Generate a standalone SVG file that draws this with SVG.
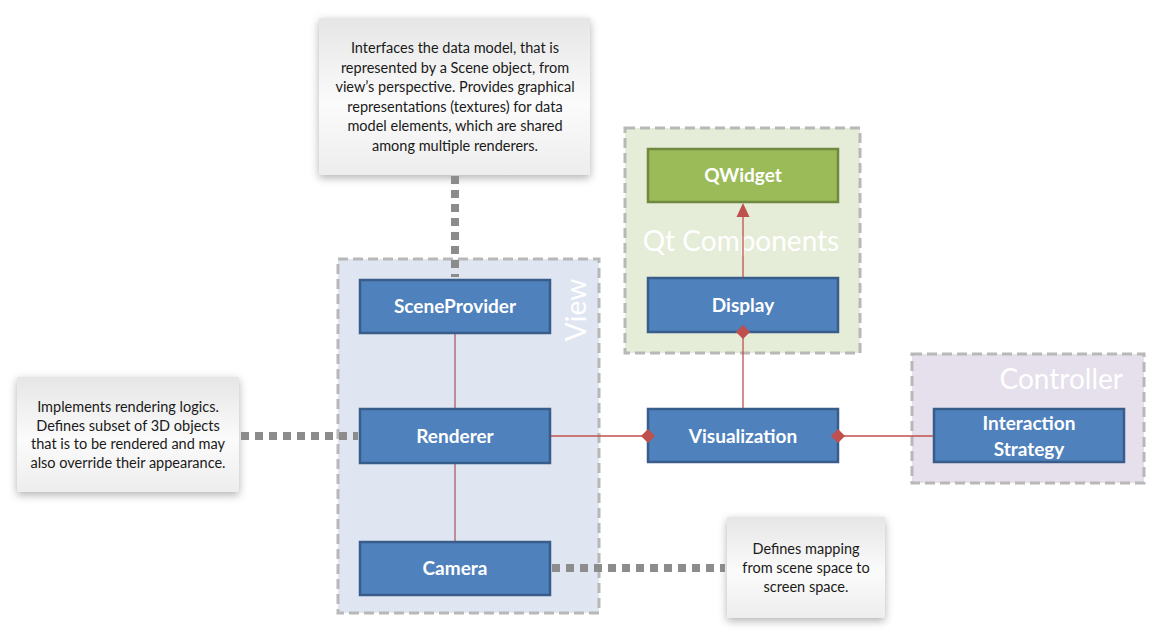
<svg xmlns="http://www.w3.org/2000/svg" width="1152" height="642" viewBox="0 0 1152 642">
<defs>
<linearGradient id="noteGrad" x1="0" y1="0" x2="0" y2="1">
<stop offset="0" stop-color="#e6e6e6"/>
<stop offset="0.55" stop-color="#fbfbfb"/>
<stop offset="1" stop-color="#ededed"/>
</linearGradient>
<filter id="shadow" x="-20%" y="-20%" width="140%" height="150%">
<feDropShadow dx="0" dy="3" stdDeviation="4" flood-color="#000" flood-opacity="0.3"/>
</filter>
</defs>
<style>
.grp{stroke:#b8b8b8;stroke-width:3;stroke-dasharray:10 5}
.node{fill:#4f81bd;stroke:#385d8a;stroke-width:2.5}
.qnode{fill:#9bbb59;stroke:#71893f;stroke-width:2.5}
.lbl{font-family:Lato,"Liberation Sans",sans-serif;font-weight:bold;font-size:19px;fill:#fff;text-anchor:middle}
.glbl{font-family:Lato,"Open Sans",sans-serif;font-size:28px;fill:#fff}
.note{fill:url(#noteGrad);filter:url(#shadow)}
.ntxt{font-family:Lato,"Liberation Sans",sans-serif;font-size:14.5px;fill:#1a1a1a;text-anchor:middle}
.dots{stroke:#8c8c8c;stroke-width:8;stroke-dasharray:8 6;fill:none}
.rel{stroke:#c0504d;stroke-width:1.3;fill:none}
.rel2{stroke:#953735;stroke-width:1;fill:none}
.dia{fill:#c0504d}
</style>

<g id="group-view">
<rect x="338" y="259" width="261" height="354" fill="#dfe6f1" class="grp"/>
<text class="glbl" transform="translate(586,310) rotate(-90)" text-anchor="middle">View</text>
</g>
<g id="group-qt">
<rect x="625" y="128" width="235" height="225" fill="#e5ecd7" class="grp"/>
<text class="glbl" x="741" y="251" text-anchor="middle">Qt Components</text>
</g>
<g id="group-controller">
<rect x="912" y="354" width="232" height="129" fill="#e5e0ec" class="grp"/>
<text class="glbl" x="1123" y="389" text-anchor="end">Controller</text>
</g>

<g id="note-sceneprovider">
<rect class="note" x="319" y="18" width="271" height="157"/>
<text class="ntxt" x="455" y="53">Interfaces the data model, that is</text>
<text class="ntxt" x="455" y="72.5">represented by a Scene object, from</text>
<text class="ntxt" x="455" y="92">view’s perspective. Provides graphical</text>
<text class="ntxt" x="455" y="111.5">representations (textures) for data</text>
<text class="ntxt" x="455" y="131">model elements, which are shared</text>
<text class="ntxt" x="455" y="150.5">among multiple renderers.</text>
</g>
<g id="note-renderer">
<rect class="note" x="17" y="377" width="222" height="115"/>
<text class="ntxt" x="128" y="412">Implements rendering logics.</text>
<text class="ntxt" x="128" y="430.5">Defines subset of 3D objects</text>
<text class="ntxt" x="128" y="449">that is to be rendered and may</text>
<text class="ntxt" x="128" y="467.5">also override their appearance.</text>
</g>
<g id="note-camera">
<rect class="note" x="727" y="517" width="158" height="101"/>
<text class="ntxt" x="806" y="554">Defines mapping</text>
<text class="ntxt" x="806" y="573">from  scene space to</text>
<text class="ntxt" x="806" y="592">screen space.</text>
</g>

<g id="node-sceneprovider">
<rect class="node" x="360" y="280" width="190" height="53"/>
<text class="lbl" x="455" y="313">SceneProvider</text>
</g>
<g id="node-renderer">
<rect class="node" x="360" y="409" width="190" height="54"/>
<text class="lbl" x="455" y="443">Renderer</text>
</g>
<g id="node-camera">
<rect class="node" x="360" y="542" width="190" height="53"/>
<text class="lbl" x="455" y="575">Camera</text>
</g>
<g id="node-qwidget">
<rect class="qnode" x="648" y="149" width="190" height="53"/>
<text class="lbl" x="743" y="182">QWidget</text>
</g>
<g id="node-display">
<rect class="node" x="648" y="278" width="190" height="54"/>
<text class="lbl" x="743" y="312">Display</text>
</g>
<g id="node-visualization">
<rect class="node" x="648" y="409" width="190" height="53"/>
<text class="lbl" x="743" y="443">Visualization</text>
</g>
<g id="node-interaction">
<rect class="node" x="934" y="409" width="190" height="53"/>
<text class="lbl" x="1029" y="430">Interaction</text>
<text class="lbl" x="1029" y="456">Strategy</text>
</g>

<g id="connectors">
<line class="dots" x1="455" y1="176" x2="455" y2="277"/>
<line class="dots" x1="241" y1="436" x2="358" y2="436"/>
<line class="dots" x1="552" y1="568" x2="725" y2="568"/>
<line class="rel2" x1="455" y1="334" x2="455" y2="408"/>
<line class="rel2" x1="455" y1="464" x2="455" y2="541"/>
<line class="rel" x1="551" y1="436" x2="648" y2="436"/>
<line class="rel" x1="838" y1="436" x2="933" y2="436"/>
<line class="rel" x1="743" y1="408" x2="743" y2="332"/>
<line class="rel" x1="743" y1="277" x2="743" y2="214"/>
<path class="dia" d="M743,203 L749.5,217 L736.5,217 Z"/>
<path class="dia" d="M648,429 L655,436 L648,443 L641,436 Z"/>
<path class="dia" d="M838,429 L845,436 L838,443 L831,436 Z"/>
<path class="dia" d="M743,325 L750,332 L743,339 L736,332 Z"/>
</g>
</svg>
